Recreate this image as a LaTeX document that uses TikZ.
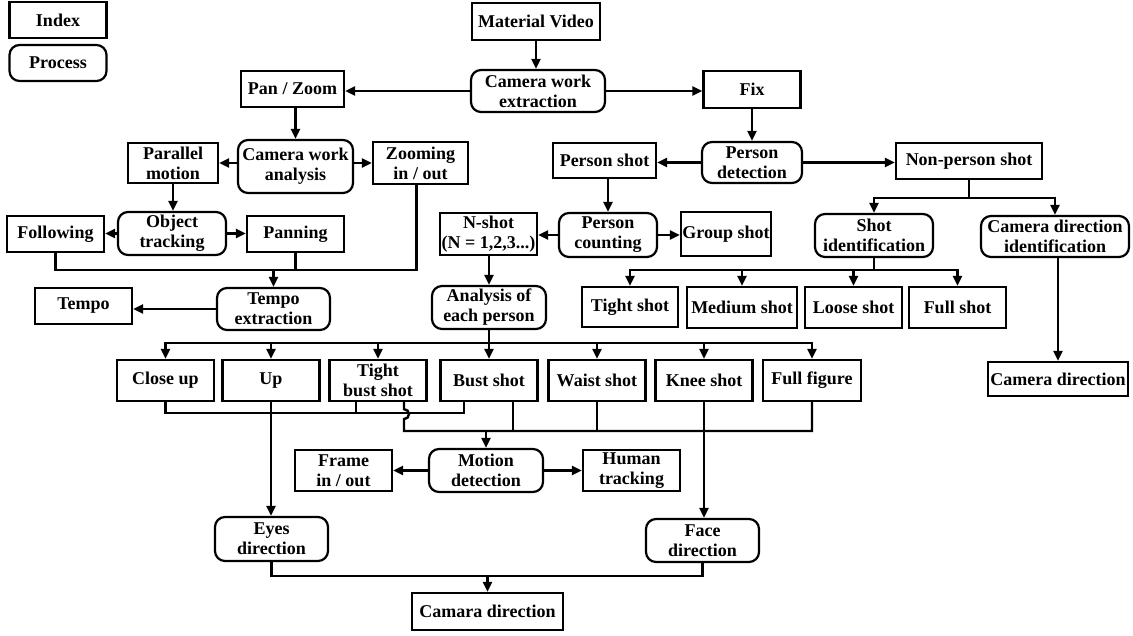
\documentclass[tikz,border=0pt]{standalone}
\usepackage{fontspec}
\setmainfont{Liberation Serif}
\usetikzlibrary{arrows.meta}

\tikzset{
  idx/.style={draw, line width=2.2pt, minimum width=97pt, minimum height=36pt,
    inner sep=1pt, align=center, font=\fontsize{18}{20}\selectfont\bfseries},
  proc/.style={idx, rounded corners=10pt},
  shot/.style={idx, minimum height=41pt},
  arr/.style={line width=2.4pt, -{Triangle[length=10pt,width=9pt]}},
  ln/.style={line width=2.4pt}
}

\begin{document}
\begin{tikzpicture}[x=1pt, y=-1pt]
\useasboundingbox (0,0) rectangle (1133,635);
% legend
\node[idx] (index) at (58,20) {Index};
\node[proc] (process) at (58,63) {Process};
% top
\node[idx, minimum width=128pt, minimum height=37pt] (mv) at (536,21.5) {Material Video};
\node[proc, minimum width=134pt, minimum height=42pt] (cwe) at (538,91) {Camera work\\extraction};
\node[idx, minimum width=103pt] (panzoom) at (292.5,89) {Pan / Zoom};
\node[idx, minimum height=37pt] (fix) at (752,89.5) {Fix};
% pan / zoom side
\node[proc, minimum width=115pt, minimum height=53pt] (cwa) at (295.5,166.5) {Camera work\\analysis};
\node[idx, minimum width=90pt, minimum height=40pt] (par) at (173,163) {Parallel\\motion};
\node[idx, minimum width=95pt, minimum height=42pt] (zoomio) at (420.5,163) {Zooming\\in / out};
\node[proc, minimum width=108pt, minimum height=43pt] (otrack) at (172,233.5) {Object\\tracking};
\node[idx] (follow) at (55.5,234) {Following};
\node[idx] (panning) at (295.5,234) {Panning};
\node[proc, minimum width=113pt, minimum height=42pt] (tempoex) at (273.5,309) {Tempo\\extraction};
\node[idx] (tempo) at (83.5,306) {Tempo};
% fix side
\node[proc, minimum width=100pt, minimum height=41pt] (pdet) at (752,162.5) {Person\\detection};
\node[idx, minimum width=103pt, minimum height=35pt] (pshot) at (604.5,160.5) {Person shot};
\node[idx, minimum width=146pt] (npshot) at (969,161) {Non-person shot};
\node[idx, minimum height=42pt] (nshot) at (488.5,234) {N-shot\\(N = 1,2,3...)};
\node[proc, minimum width=98pt, minimum height=44pt] (pcount) at (608,235) {Person\\counting};
\node[idx, minimum width=90pt, minimum height=44pt] (group) at (726,234) {Group shot};
\node[proc, minimum width=118pt, minimum height=43pt] (shotid) at (874,235.5) {Shot\\identification};
\node[proc, minimum width=148pt, minimum height=41pt] (camdirid) at (1055,236.5) {Camera direction\\identification};
\node[proc, minimum width=114pt, minimum height=43pt] (analysis) at (489,307.5) {Analysis of\\each person};
\node[idx, minimum width=96pt, minimum height=40pt] (tight) at (630,307) {Tight shot};
\node[idx, minimum width=110pt, minimum height=41pt] (medium) at (742,307.5) {Medium shot};
\node[shot] (loose) at (853.5,307.5) {Loose shot};
\node[shot] (fullshot) at (957.5,307.5) {Full shot};
\node[idx, minimum width=140pt, minimum height=34pt] (camdir) at (1058,379) {Camera direction};
% shot sizes
\node[shot] (closeup) at (165.5,380.5) {Close up};
\node[shot] (up) at (271,380.5) {Up};
\node[shot] (tbust) at (378,380.5) {Tight\\bust shot};
\node[shot] (bust) at (489,380.5) {Bust shot};
\node[shot] (waist) at (597,380.5) {Waist shot};
\node[shot] (knee) at (704,380.5) {Knee shot};
\node[shot, minimum width=98pt] (fullfig) at (812,380.5) {Full figure};
% bottom
\node[shot] (frame) at (343.5,470.5) {Frame\\in / out};
\node[proc, minimum width=114pt, minimum height=43pt] (motion) at (486,470.5) {Motion\\detection};
\node[shot] (human) at (631.5,470.5) {Human\\tracking};
\node[proc, minimum width=113pt, minimum height=44pt] (eyes) at (271.5,539) {Eyes\\direction};
\node[proc, minimum width=113pt, minimum height=43pt] (face) at (702.5,540.5) {Face\\direction};
\node[idx, minimum width=151pt, minimum height=37pt] (camara) at (487.5,611.5) {Camara direction};

\coordinate (tbus) at (0,270);
\coordinate (busa) at (0,413);
\coordinate (busb) at (0,431);
\coordinate (busc) at (0,576);

% top connectors
\draw[arr] (mv.south) -- (mv.south |- cwe.north);
\draw[arr] (cwe.west) -- (cwe.west -| panzoom.east);
\draw[arr] (cwe.east) -- (cwe.east -| fix.west);
% pan / zoom
\draw[arr] (cwa.north |- panzoom.south) -- (cwa.north);
\draw[arr] (cwa.west |- par.east) -- (par.east);
\draw[arr] (cwa.east |- zoomio.west) -- (zoomio.west);
\draw[arr] (par.south) -- (par.south |- otrack.north);
\draw[arr] (otrack.west) -- (otrack.west -| follow.east);
\draw[arr] (otrack.east) -- (otrack.east -| panning.west);
\draw[ln] (follow.south) |- ([xshift=-4pt]zoomio.south |- tbus) -- ([xshift=-4pt]zoomio.south);
\draw[ln] (panning.south) -- (panning.south |- tbus);
\draw[arr] (tempoex.north |- tbus) -- (tempoex.north);
\draw[arr] (tempoex.west) -- (tempoex.west -| tempo.east);
% fix
\draw[arr] (fix.south) -- (fix.south |- pdet.north);
\draw[arr] (pdet.west) -- (pdet.west -| pshot.east);
\draw[arr] (pdet.east) -- (pdet.east -| npshot.west);
\draw[arr] (pcount.north |- pshot.south) -- (pcount.north);
\draw[arr] (pcount.west) -- (pcount.west -| nshot.east);
\draw[arr] (pcount.east) -- (pcount.east -| group.west);
\draw[arr] (analysis.north |- nshot.south) -- (analysis.north);
\draw[arr] (npshot.south) -- ++(0,18) -| (shotid.north);
\draw[arr] (npshot.south) -- ++(0,18) -| (camdirid.north);
\draw[arr] (camdir.north |- camdirid.south) -- (camdir.north);
\foreach \n in {tight, medium, loose, fullshot}
  \draw[arr] (shotid.south) -- ++(0,12) -| (\n.north);
% person analysis
\foreach \n in {closeup, up, tbust, bust, waist, knee, fullfig}
  \draw[arr] (analysis.south) -- ++(0,13) -| (\n.north);
\draw[ln] (closeup.south) |- ([xshift=-25pt]bust.south |- busa) -- ([xshift=-25pt]bust.south);
\draw[ln] ([xshift=-22pt]tbust.south) -- ([xshift=-22pt]tbust.south |- busa);
\draw[arr] (up.south) -- (up.south |- eyes.north);
\draw[ln] ([xshift=26pt]tbust.south) -- ++(0,7) arc[start angle=90, end angle=-90, radius=5pt]
  |- (fullfig.south |- busb) -- (fullfig.south);
\draw[ln] ([xshift=24pt]bust.south) -- ([xshift=24pt]bust.south |- busb);
\draw[ln] (waist.south) -- (waist.south |- busb);
\draw[arr] (motion.north |- busb) -- (motion.north);
\draw[arr] (knee.south) -- (knee.south |- face.north);
\draw[arr] (motion.west) -- (motion.west -| frame.east);
\draw[arr] (motion.east) -- (motion.east -| human.west);
\draw[ln] (eyes.south) |- (face.south |- busc) -- (face.south);
\draw[arr] (camara.north |- busc) -- (camara.north);
\end{tikzpicture}
\end{document}
